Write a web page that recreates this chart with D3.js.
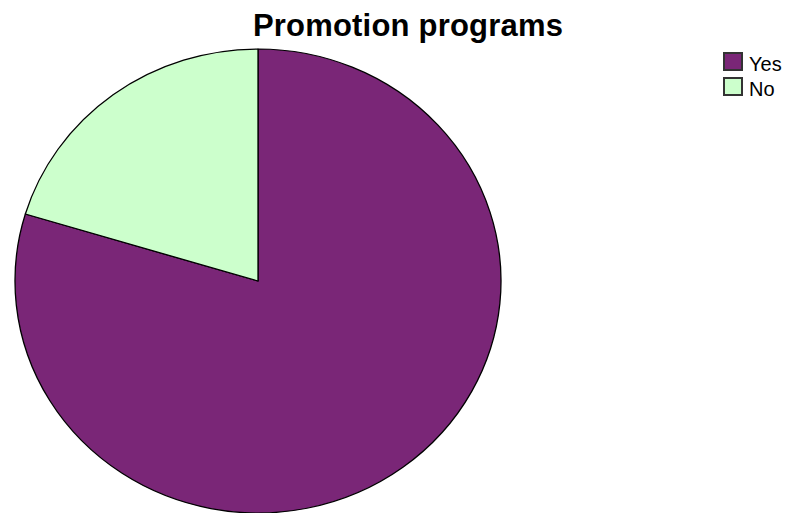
<!DOCTYPE html>
<html>
<head>
<meta charset="utf-8">
<script src="https://cdn.jsdelivr.net/npm/d3@7"></script>
<style>
body { margin: 0; background: #fff; }
svg { display: block; }
</style>
</head>
<body>
<svg></svg>
<script>
var categories = ["Yes", "No"];
var counts = [47, 12];
var colors = ["#7a2677", "#ccffcc"];

var w = 790;
var h = 513;
var svg = d3.select('svg')
    .attr('width', w)
    .attr('height', h);

svg.append('text')
    .attr('x', 408)
    .attr('y', 36)
    .attr('text-anchor', 'middle')
    .attr('font-family', 'Liberation Sans, Arial, sans-serif')
    .attr('font-weight', 'bold')
    .attr('font-size', 31)
    .attr('letter-spacing', 0.2)
    .text('Promotion programs');

var rx = 243, ry = 232;
var pie = d3.pie().sort(null);
var arc = d3.arc().innerRadius(0).outerRadius(rx);

// pie is a bit wider than tall, squash it
var g = svg.append('g')
    .attr('transform', 'translate(258,281) scale(1,' + (ry / rx) + ')');

g.selectAll('path')
    .data(pie(counts))
    .enter()
    .append('path')
    .attr('d', arc)
    .attr('fill', function(d, i) { return colors[i]; })
    .attr('stroke', '#000')
    .attr('stroke-width', 1.3)
    .attr('stroke-linejoin', 'round');

var legend = svg.append('g')
    .attr('transform', 'translate(723,52)');

var item = legend.selectAll('g')
    .data(categories)
    .enter()
    .append('g')
    .attr('transform', function(d, i) { return 'translate(0,' + (i * 25) + ')'; });

item.append('rect')
    .attr('x', 1)
    .attr('y', 1)
    .attr('width', 18)
    .attr('height', 17)
    .attr('fill', function(d, i) { return colors[i]; })
    .attr('stroke', '#333')
    .attr('stroke-width', 2);

item.append('text')
    .attr('x', 26)
    .attr('y', 19)
    .attr('font-family', 'Liberation Sans, Arial, sans-serif')
    .attr('font-size', 20)
    .text(function(d) { return d; });
</script>
</body>
</html>
